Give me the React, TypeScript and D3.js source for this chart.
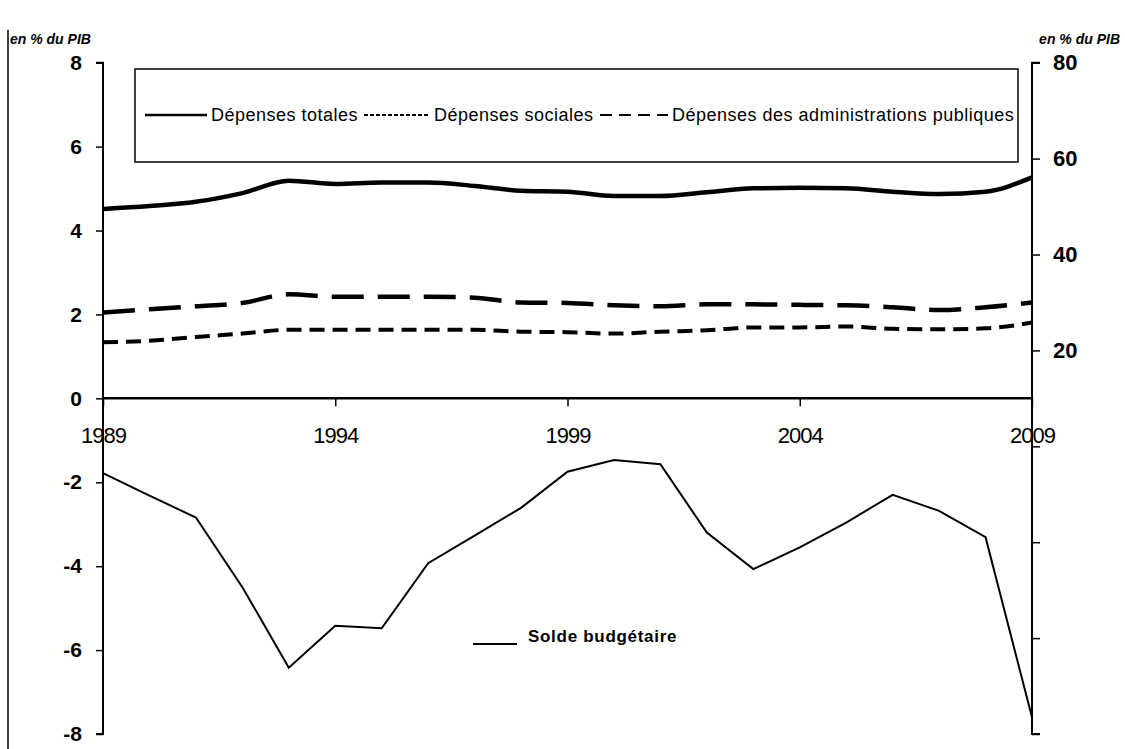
import React, { useEffect, useRef } from 'react';
import * as d3 from 'd3';

const years = d3.range(1989, 2010);

// en % du PIB (axe de droite)
const depensesTotales = [49.5, 50.1, 51.0, 52.8, 55.4, 54.7, 55.0, 55.0, 54.3, 53.3, 53.1, 52.2, 52.2, 53.0, 53.8, 53.9, 53.8, 53.1, 52.6, 53.1, 56.1];
const depensesSociales = [21.7, 22.0, 22.8, 23.5, 24.3, 24.3, 24.3, 24.3, 24.3, 23.9, 23.8, 23.5, 23.9, 24.2, 24.8, 24.8, 25.0, 24.5, 24.4, 24.6, 25.8];
const depensesAPU = [27.9, 28.6, 29.2, 29.9, 31.7, 31.2, 31.2, 31.2, 31.0, 30.0, 29.9, 29.4, 29.2, 29.6, 29.6, 29.5, 29.4, 29.0, 28.4, 29.0, 30.0];

// en % du PIB (axe de gauche)
const soldeBudgetaire = [-1.78, -2.32, -2.84, -4.5, -6.42, -5.42, -5.48, -3.93, -3.27, -2.61, -1.75, -1.47, -1.57, -3.2, -4.07, -3.55, -2.96, -2.3, -2.68, -3.31, -7.6];

const leftTicks = [8, 6, 4, 2, 0, -2, -4, -6, -8];
const rightTicks = [80, 60, 40, 20, 0, -20, -40, -60];
const rightLabelled = [80, 60, 40, 20];
const yearTicks = [1989, 1994, 1999, 2004, 2009];

const FONT = '"Liberation Sans", Arial, sans-serif';

const App: React.FC = () => {
  const svgRef = useRef<SVGSVGElement>(null);

  useEffect(() => {
    if (!svgRef.current) return;
    const svg = d3.select(svgRef.current);
    svg.selectAll('*').remove();

    const x = d3.scaleLinear().domain([1989, 2009]).range([103, 1032]);
    const yL = d3.scaleLinear().domain([-8, 8]).range([734, 62.7]);
    const yR = d3.scaleLinear().domain([-60, 80]).range([734, 62.7]);

    svg.append('rect').attr('width', 1125).attr('height', 749).attr('fill', '#fff');

    // cadre gauche
    svg.append('line').attr('x1', 8).attr('x2', 8).attr('y1', 30).attr('y2', 749)
      .attr('stroke', '#000').attr('stroke-width', 1.5);

    // unités
    svg.append('text').attr('x', 10).attr('y', 44).text('en % du PIB')
      .attr('font-family', FONT).attr('font-size', 14).attr('font-weight', 'bold').attr('font-style', 'italic');
    svg.append('text').attr('x', 1120).attr('y', 44).attr('text-anchor', 'end').text('en % du PIB')
      .attr('font-family', FONT).attr('font-size', 14).attr('font-weight', 'bold').attr('font-style', 'italic');

    // axe gauche
    const gL = svg.append('g').attr('transform', `translate(${x(1989)},0)`)
      .call(d3.axisLeft(yL).tickValues(leftTicks).tickSize(7).tickPadding(14).tickFormat((d) => String(d)));
    gL.select('.domain').attr('stroke-width', 2).attr('d', `M-7,${yL(8)}H0V${yL(-8)}H-7`);
    gL.selectAll('text').attr('font-family', FONT).attr('font-size', 21).attr('font-weight', 'bold');
    gL.selectAll('line').attr('stroke-width', 1.5);

    // axe droit
    const gR = svg.append('g').attr('transform', `translate(${x(2009)},0)`)
      .call(d3.axisRight(yR).tickValues(rightTicks).tickSize(8).tickPadding(13)
        .tickFormat((d) => (rightLabelled.includes(+d) ? String(d) : '')));
    gR.select('.domain').attr('stroke-width', 2).attr('d', `M8,${yR(80)}H0V${yR(-60)}H8`);
    gR.selectAll('text').attr('font-family', FONT).attr('font-size', 22).attr('font-weight', 'bold');
    gR.selectAll('line').attr('stroke-width', 1.5);

    // axe des années à zéro
    const gX = svg.append('g').attr('transform', `translate(0,${yL(0)})`)
      .call(d3.axisBottom(x).tickValues(yearTicks).tickSize(8).tickPadding(21).tickFormat((d) => String(d)));
    gX.select('.domain').attr('stroke-width', 2.5).attr('d', `M${x(1989)},0H${x(2009)}`);
    gX.selectAll('text').attr('font-family', FONT).attr('font-size', 22).attr('letter-spacing', -1);
    gX.selectAll('line').attr('stroke-width', 1.5);

    // cadre de légende
    svg.append('rect').attr('x', 135).attr('y', 69).attr('width', 883).attr('height', 93)
      .attr('fill', 'none').attr('stroke', '#000').attr('stroke-width', 1.5);

    const lineR = (vals: number[]) => d3.line<number>()
      .x((_, i) => x(years[i]))
      .y((d) => yR(d))
      .curve(d3.curveMonotoneX)(vals);

    svg.append('path').attr('d', lineR(depensesAPU)).attr('fill', 'none')
      .attr('stroke', '#000').attr('stroke-width', 4.5).attr('stroke-dasharray', '32 14');
    svg.append('path').attr('d', lineR(depensesSociales)).attr('fill', 'none')
      .attr('stroke', '#000').attr('stroke-width', 4).attr('stroke-dasharray', '15 8');
    svg.append('path').attr('d', lineR(depensesTotales)).attr('fill', 'none')
      .attr('stroke', '#000').attr('stroke-width', 4.5);

    const lineSolde = d3.line<number>().x((_, i) => x(years[i])).y((d) => yL(d));
    svg.append('path').attr('d', lineSolde(soldeBudgetaire)).attr('fill', 'none')
      .attr('stroke', '#000').attr('stroke-width', 2).attr('stroke-linejoin', 'miter');

    // légende du haut
    const legend = [
      { label: 'Dépenses totales', dash: null as string | null, x0: 145, x1: 207, w: 2.5 },
      { label: 'Dépenses sociales', dash: '4 2', x0: 364, x1: 430, w: 2 },
      { label: 'Dépenses des administrations publiques', dash: '12 7', x0: 600, x1: 668, w: 2 },
    ];
    legend.forEach((l) => {
      svg.append('line').attr('x1', l.x0).attr('x2', l.x1).attr('y1', 115).attr('y2', 115)
        .attr('stroke', '#000').attr('stroke-width', l.w).attr('stroke-dasharray', l.dash);
      svg.append('text').attr('x', l.x1 + 4).attr('y', 121).text(l.label)
        .attr('font-family', FONT).attr('font-size', 18).attr('letter-spacing', 0.5);
    });

    // légende du solde
    svg.append('line').attr('x1', 473).attr('x2', 517).attr('y1', 644).attr('y2', 644)
      .attr('stroke', '#000').attr('stroke-width', 2);
    svg.append('text').attr('x', 528).attr('y', 642).text('Solde budgétaire')
      .attr('font-family', FONT).attr('font-size', 17).attr('font-weight', 'bold').attr('letter-spacing', 0.7);
  }, []);

  return (
    <svg
      ref={svgRef}
      width={1125}
      height={749}
      style={{ position: 'absolute', left: 0, top: 0, display: 'block' }}
    />
  );
};

export default App;
